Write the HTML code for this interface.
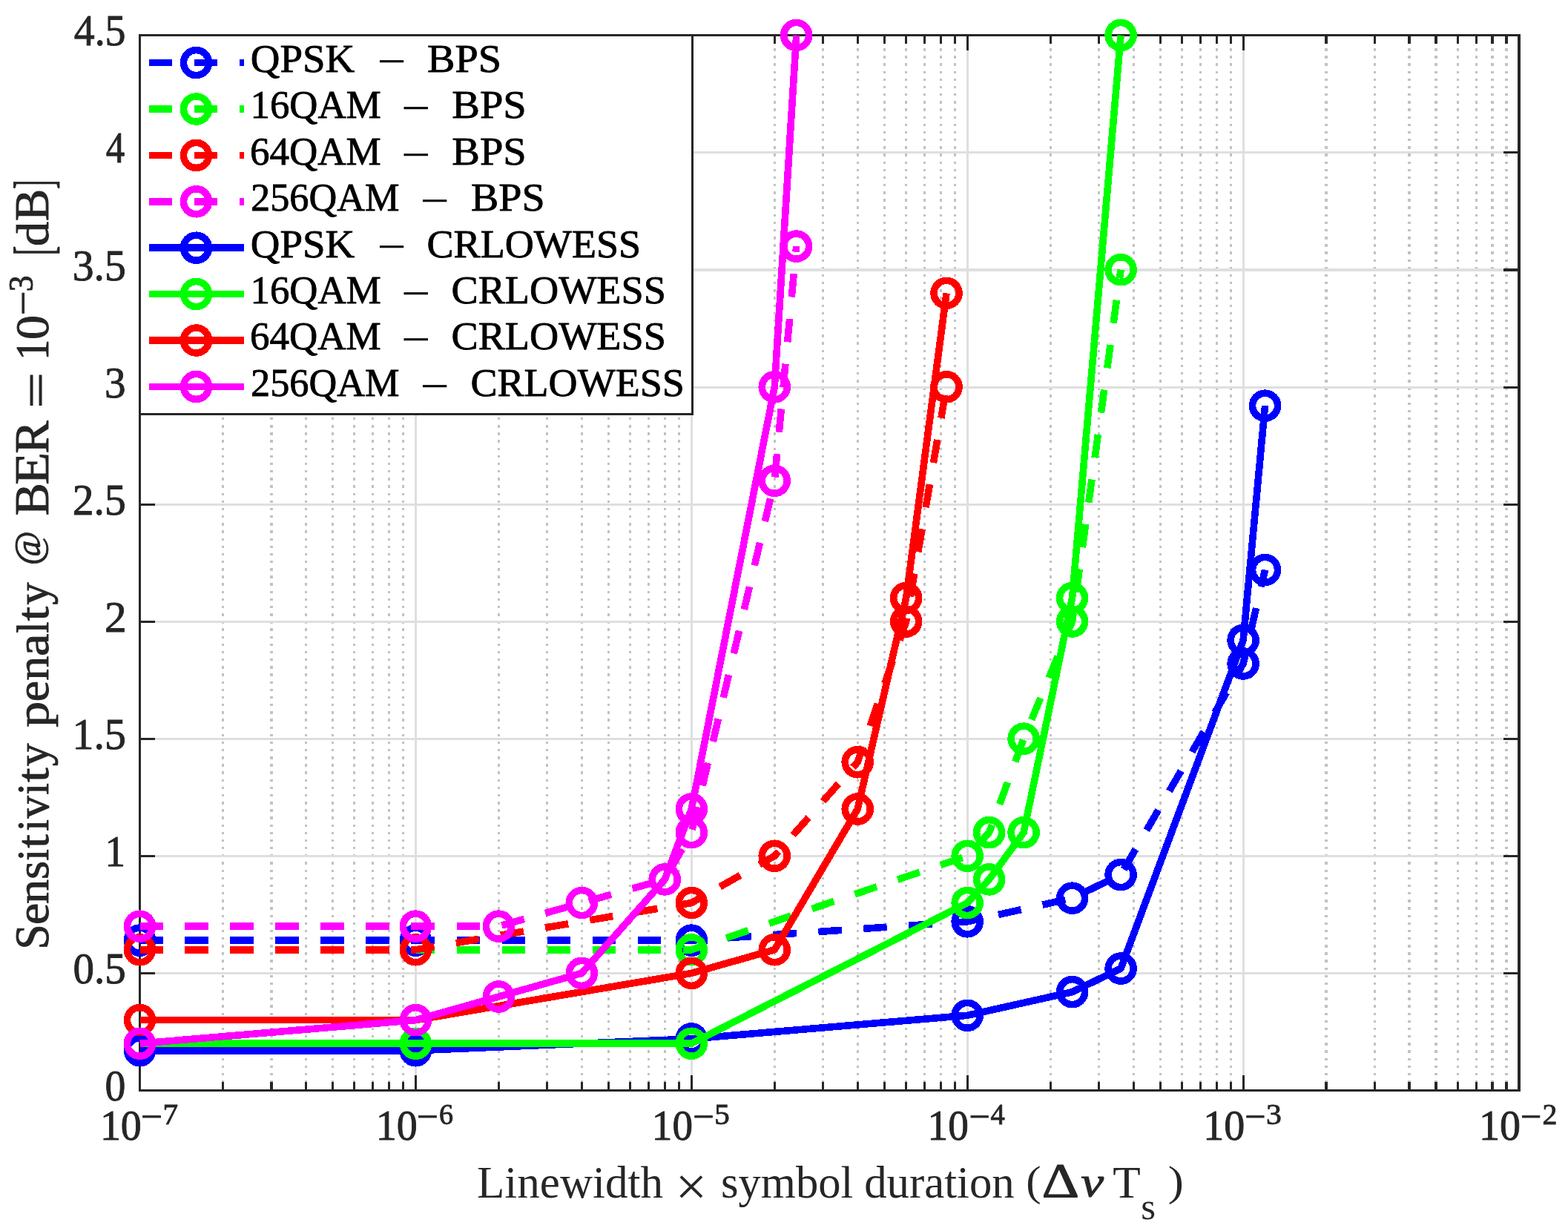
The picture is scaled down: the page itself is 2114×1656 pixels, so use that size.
<!DOCTYPE html>
<html lang="en"><head><meta charset="utf-8"><title>Sensitivity penalty vs linewidth symbol duration</title>
<style>html,body{margin:0;padding:0;background:#fff}svg{display:block}text{font-family:"Liberation Serif","DejaVu Serif",serif;white-space:pre}.t{fill:#262626;stroke:#262626;stroke-width:.9px}.l{fill:#000;stroke:#000;stroke-width:.8px}.x{fill:#262626;stroke:none}.d{font-family:"DejaVu Serif","Liberation Serif",serif}</style></head><body>
<svg width="2114" height="1656" viewBox="0 0 2114 1656">
<rect width="2114" height="1656" fill="#fff"/>
<defs><clipPath id="c"><rect x="188.5" y="47.5" width="1859.5" height="1423.0"/></clipPath></defs>
<g shape-rendering="crispEdges" fill="none">
<path d="M300.45 1470.78V47.78M365.94 1470.78V47.78M412.41 1470.78V47.78M448.45 1470.78V47.78M477.89 1470.78V47.78M502.79 1470.78V47.78M524.36 1470.78V47.78M543.38 1470.78V47.78M672.35 1470.78V47.78M737.84 1470.78V47.78M784.31 1470.78V47.78M820.35 1470.78V47.78M849.79 1470.78V47.78M874.69 1470.78V47.78M896.26 1470.78V47.78M915.28 1470.78V47.78M1044.25 1470.78V47.78M1109.74 1470.78V47.78M1156.21 1470.78V47.78M1192.25 1470.78V47.78M1221.69 1470.78V47.78M1246.59 1470.78V47.78M1268.16 1470.78V47.78M1287.18 1470.78V47.78M1416.15 1470.78V47.78M1481.64 1470.78V47.78M1528.11 1470.78V47.78M1564.15 1470.78V47.78M1593.59 1470.78V47.78M1618.49 1470.78V47.78M1640.06 1470.78V47.78M1659.08 1470.78V47.78M1788.05 1470.78V47.78M1853.54 1470.78V47.78M1900.01 1470.78V47.78M1936.05 1470.78V47.78M1965.49 1470.78V47.78M1990.39 1470.78V47.78M2011.96 1470.78V47.78M2030.98 1470.78V47.78" stroke="#c2c2c2" stroke-width="3.12" stroke-dasharray="3.4 6.76" stroke-dashoffset="9.98"/>
<path d="M560.4 47.78V1470.78M932.3 47.78V1470.78M1304.2 47.78V1470.78M1676.1 47.78V1470.78M188.5 1312.67H2048.0M188.5 1154.56H2048.0M188.5 996.45H2048.0M188.5 838.34H2048.0M188.5 680.22H2048.0M188.5 522.11H2048.0M188.5 364H2048.0M188.5 205.89H2048.0" stroke="#dfdfdf" stroke-width="3.12"/>
<path d="M188.5 1470.78v-20.6M188.5 47.78v20.6M560.4 1470.78v-20.6M560.4 47.78v20.6M932.3 1470.78v-20.6M932.3 47.78v20.6M1304.2 1470.78v-20.6M1304.2 47.78v20.6M1676.1 1470.78v-20.6M1676.1 47.78v20.6M2048 1470.78v-20.6M2048 47.78v20.6M300.45 1470.78v-11.6M300.45 47.78v11.6M365.94 1470.78v-11.6M365.94 47.78v11.6M412.41 1470.78v-11.6M412.41 47.78v11.6M448.45 1470.78v-11.6M448.45 47.78v11.6M477.89 1470.78v-11.6M477.89 47.78v11.6M502.79 1470.78v-11.6M502.79 47.78v11.6M524.36 1470.78v-11.6M524.36 47.78v11.6M543.38 1470.78v-11.6M543.38 47.78v11.6M672.35 1470.78v-11.6M672.35 47.78v11.6M737.84 1470.78v-11.6M737.84 47.78v11.6M784.31 1470.78v-11.6M784.31 47.78v11.6M820.35 1470.78v-11.6M820.35 47.78v11.6M849.79 1470.78v-11.6M849.79 47.78v11.6M874.69 1470.78v-11.6M874.69 47.78v11.6M896.26 1470.78v-11.6M896.26 47.78v11.6M915.28 1470.78v-11.6M915.28 47.78v11.6M1044.25 1470.78v-11.6M1044.25 47.78v11.6M1109.74 1470.78v-11.6M1109.74 47.78v11.6M1156.21 1470.78v-11.6M1156.21 47.78v11.6M1192.25 1470.78v-11.6M1192.25 47.78v11.6M1221.69 1470.78v-11.6M1221.69 47.78v11.6M1246.59 1470.78v-11.6M1246.59 47.78v11.6M1268.16 1470.78v-11.6M1268.16 47.78v11.6M1287.18 1470.78v-11.6M1287.18 47.78v11.6M1416.15 1470.78v-11.6M1416.15 47.78v11.6M1481.64 1470.78v-11.6M1481.64 47.78v11.6M1528.11 1470.78v-11.6M1528.11 47.78v11.6M1564.15 1470.78v-11.6M1564.15 47.78v11.6M1593.59 1470.78v-11.6M1593.59 47.78v11.6M1618.49 1470.78v-11.6M1618.49 47.78v11.6M1640.06 1470.78v-11.6M1640.06 47.78v11.6M1659.08 1470.78v-11.6M1659.08 47.78v11.6M1788.05 1470.78v-11.6M1788.05 47.78v11.6M1853.54 1470.78v-11.6M1853.54 47.78v11.6M1900.01 1470.78v-11.6M1900.01 47.78v11.6M1936.05 1470.78v-11.6M1936.05 47.78v11.6M1965.49 1470.78v-11.6M1965.49 47.78v11.6M1990.39 1470.78v-11.6M1990.39 47.78v11.6M2011.96 1470.78v-11.6M2011.96 47.78v11.6M2030.98 1470.78v-11.6M2030.98 47.78v11.6M188.5 1470.78h20.6M2048.0 1470.78h-20.6M188.5 1312.67h20.6M2048.0 1312.67h-20.6M188.5 1154.56h20.6M2048.0 1154.56h-20.6M188.5 996.45h20.6M2048.0 996.45h-20.6M188.5 838.34h20.6M2048.0 838.34h-20.6M188.5 680.22h20.6M2048.0 680.22h-20.6M188.5 522.11h20.6M2048.0 522.11h-20.6M188.5 364h20.6M2048.0 364h-20.6M188.5 205.89h20.6M2048.0 205.89h-20.6M188.5 47.78h20.6M2048.0 47.78h-20.6" stroke="#262626" stroke-width="3.12"/>
<rect x="188.5" y="47.78" width="1859.5" height="1423" stroke="#262626" stroke-width="3.12"/>
</g>
<g stroke="#0000ff" stroke-width="9.6" fill="none" shape-rendering="crispEdges">
<polyline points="188.5,1268.12 560.4,1268.12 932.3,1268.12 1304.2,1242.82 1445.6,1211.2 1511.09,1179.58 1676.1,894.98 1705.55,768.49" clip-path="url(#c)" stroke-linejoin="round" stroke-dasharray="31.5 29.53" stroke-dashoffset="0.2"/>
<circle cx="188.5" cy="1268.12" r="17.0"/>
<circle cx="560.4" cy="1268.12" r="17.0"/>
<circle cx="932.3" cy="1268.12" r="17.0"/>
<circle cx="1304.2" cy="1242.82" r="17.0"/>
<circle cx="1445.6" cy="1211.2" r="17.0"/>
<circle cx="1511.09" cy="1179.58" r="17.0"/>
<circle cx="1676.1" cy="894.98" r="17.0"/>
<circle cx="1705.55" cy="768.49" r="17.0"/>
</g>
<g stroke="#00ff00" stroke-width="9.6" fill="none" shape-rendering="crispEdges">
<polyline points="188.5,1280.77 560.4,1280.77 932.3,1280.77 1304.2,1154.28 1333.65,1122.66 1380.11,996.17 1445.6,838.06 1511.09,363.72" clip-path="url(#c)" stroke-linejoin="round" stroke-dasharray="31.5 29.53" stroke-dashoffset="0.2"/>
<circle cx="188.5" cy="1280.77" r="17.0"/>
<circle cx="560.4" cy="1280.77" r="17.0"/>
<circle cx="932.3" cy="1280.77" r="17.0"/>
<circle cx="1304.2" cy="1154.28" r="17.0"/>
<circle cx="1333.65" cy="1122.66" r="17.0"/>
<circle cx="1380.11" cy="996.17" r="17.0"/>
<circle cx="1445.6" cy="838.06" r="17.0"/>
<circle cx="1511.09" cy="363.72" r="17.0"/>
</g>
<g stroke="#ff0000" stroke-width="9.6" fill="none" shape-rendering="crispEdges">
<polyline points="188.5,1280.77 560.4,1280.77 932.3,1217.52 1044.25,1154.28 1156.21,1027.79 1221.69,838.06 1276.04,521.83" clip-path="url(#c)" stroke-linejoin="round" stroke-dasharray="31.5 29.53" stroke-dashoffset="0.2"/>
<circle cx="188.5" cy="1280.77" r="17.0"/>
<circle cx="560.4" cy="1280.77" r="17.0"/>
<circle cx="932.3" cy="1217.52" r="17.0"/>
<circle cx="1044.25" cy="1154.28" r="17.0"/>
<circle cx="1156.21" cy="1027.79" r="17.0"/>
<circle cx="1221.69" cy="838.06" r="17.0"/>
<circle cx="1276.04" cy="521.83" r="17.0"/>
</g>
<g stroke="#ff00ff" stroke-width="9.6" fill="none" shape-rendering="crispEdges">
<polyline points="188.5,1249.14 560.4,1249.14 672.35,1249.14 784.31,1217.52 896.26,1185.9 932.3,1122.66 1044.25,648.32 1073.7,332.1" clip-path="url(#c)" stroke-linejoin="round" stroke-dasharray="31.5 29.53" stroke-dashoffset="0.2"/>
<circle cx="188.5" cy="1249.14" r="17.0"/>
<circle cx="560.4" cy="1249.14" r="17.0"/>
<circle cx="672.35" cy="1249.14" r="17.0"/>
<circle cx="784.31" cy="1217.52" r="17.0"/>
<circle cx="896.26" cy="1185.9" r="17.0"/>
<circle cx="932.3" cy="1122.66" r="17.0"/>
<circle cx="1044.25" cy="648.32" r="17.0"/>
<circle cx="1073.7" cy="332.1" r="17.0"/>
</g>
<g stroke="#0000ff" stroke-width="9.6" fill="none" shape-rendering="crispEdges">
<polyline points="188.5,1416.74 560.4,1416.74 932.3,1400.93 1304.2,1369.31 1445.6,1337.69 1511.09,1306.06 1676.1,863.35 1705.55,547.13" clip-path="url(#c)" stroke-linejoin="round"/>
<circle cx="188.5" cy="1416.74" r="17.0"/>
<circle cx="560.4" cy="1416.74" r="17.0"/>
<circle cx="932.3" cy="1400.93" r="17.0"/>
<circle cx="1304.2" cy="1369.31" r="17.0"/>
<circle cx="1445.6" cy="1337.69" r="17.0"/>
<circle cx="1511.09" cy="1306.06" r="17.0"/>
<circle cx="1676.1" cy="863.35" r="17.0"/>
<circle cx="1705.55" cy="547.13" r="17.0"/>
</g>
<g stroke="#00ff00" stroke-width="9.6" fill="none" shape-rendering="crispEdges">
<polyline points="188.5,1407.26 560.4,1407.26 932.3,1407.26 1304.2,1217.52 1333.65,1185.9 1380.11,1122.66 1445.6,806.43 1511.09,47.5" clip-path="url(#c)" stroke-linejoin="round"/>
<circle cx="188.5" cy="1407.26" r="17.0"/>
<circle cx="560.4" cy="1407.26" r="17.0"/>
<circle cx="932.3" cy="1407.26" r="17.0"/>
<circle cx="1304.2" cy="1217.52" r="17.0"/>
<circle cx="1333.65" cy="1185.9" r="17.0"/>
<circle cx="1380.11" cy="1122.66" r="17.0"/>
<circle cx="1445.6" cy="806.43" r="17.0"/>
<circle cx="1511.09" cy="47.5" r="17.0"/>
</g>
<g stroke="#ff0000" stroke-width="9.6" fill="none" shape-rendering="crispEdges">
<polyline points="188.5,1375.63 560.4,1375.63 932.3,1312.39 1044.25,1280.77 1156.21,1091.03 1221.69,806.43 1276.04,395.34" clip-path="url(#c)" stroke-linejoin="round"/>
<circle cx="188.5" cy="1375.63" r="17.0"/>
<circle cx="560.4" cy="1375.63" r="17.0"/>
<circle cx="932.3" cy="1312.39" r="17.0"/>
<circle cx="1044.25" cy="1280.77" r="17.0"/>
<circle cx="1156.21" cy="1091.03" r="17.0"/>
<circle cx="1221.69" cy="806.43" r="17.0"/>
<circle cx="1276.04" cy="395.34" r="17.0"/>
</g>
<g stroke="#ff00ff" stroke-width="9.6" fill="none" shape-rendering="crispEdges">
<polyline points="188.5,1407.26 560.4,1375.63 672.35,1344.01 784.31,1312.39 896.26,1185.9 932.3,1091.03 1044.25,521.83 1073.7,47.5" clip-path="url(#c)" stroke-linejoin="round"/>
<circle cx="188.5" cy="1407.26" r="17.0"/>
<circle cx="560.4" cy="1375.63" r="17.0"/>
<circle cx="672.35" cy="1344.01" r="17.0"/>
<circle cx="784.31" cy="1312.39" r="17.0"/>
<circle cx="896.26" cy="1185.9" r="17.0"/>
<circle cx="932.3" cy="1091.03" r="17.0"/>
<circle cx="1044.25" cy="521.83" r="17.0"/>
<circle cx="1073.7" cy="47.5" r="17.0"/>
</g>
<rect x="188.5" y="47.5" width="745.0" height="511.0" fill="#fff" stroke="#262626" stroke-width="3.12" shape-rendering="crispEdges"/>
<g stroke="#0000ff" stroke-width="9.6" fill="none" shape-rendering="crispEdges"><path d="M200.8 84.6H264.5H329.2" stroke-dasharray="31.5 29.53"/><circle cx="264.5" cy="84.6" r="17.0"/></g>
<g stroke="#00ff00" stroke-width="9.6" fill="none" shape-rendering="crispEdges"><path d="M200.8 147H264.5H329.2" stroke-dasharray="31.5 29.53"/><circle cx="264.5" cy="147" r="17.0"/></g>
<g stroke="#ff0000" stroke-width="9.6" fill="none" shape-rendering="crispEdges"><path d="M200.8 209.4H264.5H329.2" stroke-dasharray="31.5 29.53"/><circle cx="264.5" cy="209.4" r="17.0"/></g>
<g stroke="#ff00ff" stroke-width="9.6" fill="none" shape-rendering="crispEdges"><path d="M200.8 271.8H264.5H329.2" stroke-dasharray="31.5 29.53"/><circle cx="264.5" cy="271.8" r="17.0"/></g>
<g stroke="#0000ff" stroke-width="9.6" fill="none" shape-rendering="crispEdges"><path d="M200.8 334.2H264.5H329.2"/><circle cx="264.5" cy="334.2" r="17.0"/></g>
<g stroke="#00ff00" stroke-width="9.6" fill="none" shape-rendering="crispEdges"><path d="M200.8 396.6H264.5H329.2"/><circle cx="264.5" cy="396.6" r="17.0"/></g>
<g stroke="#ff0000" stroke-width="9.6" fill="none" shape-rendering="crispEdges"><path d="M200.8 459H264.5H329.2"/><circle cx="264.5" cy="459" r="17.0"/></g>
<g stroke="#ff00ff" stroke-width="9.6" fill="none" shape-rendering="crispEdges"><path d="M200.8 521.4H264.5H329.2"/><circle cx="264.5" cy="521.4" r="17.0"/></g>
<text class="l"><tspan font-size="53.7" x="337.78" y="97" textLength="140.48" lengthAdjust="spacingAndGlyphs">QPSK</tspan> <tspan font-size="46.0" x="509.41" y="98.47" textLength="37.7" lengthAdjust="spacingAndGlyphs">−</tspan> <tspan font-size="53.7" x="576.1" y="97" textLength="100.05" lengthAdjust="spacingAndGlyphs">BPS</tspan></text>
<text class="l"><tspan font-size="53.7" x="337.49" y="159.4" textLength="176.25" lengthAdjust="spacingAndGlyphs">16QAM</tspan> <tspan font-size="46.0" x="542.12" y="161.08" textLength="37.99" lengthAdjust="spacingAndGlyphs">−</tspan> <tspan font-size="53.7" x="609.26" y="159.4" textLength="100.55" lengthAdjust="spacingAndGlyphs">BPS</tspan></text>
<text class="l"><tspan font-size="53.7" x="336.93" y="221.8" textLength="176.79" lengthAdjust="spacingAndGlyphs">64QAM</tspan> <tspan font-size="46.0" x="542.12" y="223.66" textLength="37.99" lengthAdjust="spacingAndGlyphs">−</tspan> <tspan font-size="53.7" x="609.26" y="221.8" textLength="100.55" lengthAdjust="spacingAndGlyphs">BPS</tspan></text>
<text class="l"><tspan font-size="53.7" x="338.01" y="284.2" textLength="200.65" lengthAdjust="spacingAndGlyphs">256QAM</tspan> <tspan font-size="46.0" x="567.48" y="286.22" textLength="37.9" lengthAdjust="spacingAndGlyphs">−</tspan> <tspan font-size="53.7" x="634.92" y="284.2" textLength="99.71" lengthAdjust="spacingAndGlyphs">BPS</tspan></text>
<text class="l"><tspan font-size="53.7" x="337.78" y="346.6" textLength="140.48" lengthAdjust="spacingAndGlyphs">QPSK</tspan> <tspan font-size="46.0" x="509.41" y="347.89" textLength="37.7" lengthAdjust="spacingAndGlyphs">−</tspan> <tspan font-size="53.7" x="575.49" y="346.6" textLength="288.71" lengthAdjust="spacingAndGlyphs">CRLOWESS</tspan></text>
<text class="l"><tspan font-size="53.7" x="337.49" y="409" textLength="176.25" lengthAdjust="spacingAndGlyphs">16QAM</tspan> <tspan font-size="46.0" x="542.12" y="410.5" textLength="37.99" lengthAdjust="spacingAndGlyphs">−</tspan> <tspan font-size="53.7" x="608.47" y="409" textLength="289.33" lengthAdjust="spacingAndGlyphs">CRLOWESS</tspan></text>
<text class="l"><tspan font-size="53.7" x="336.93" y="471.4" textLength="176.79" lengthAdjust="spacingAndGlyphs">64QAM</tspan> <tspan font-size="46.0" x="542.12" y="473.08" textLength="37.99" lengthAdjust="spacingAndGlyphs">−</tspan> <tspan font-size="53.7" x="608.47" y="471.4" textLength="289.33" lengthAdjust="spacingAndGlyphs">CRLOWESS</tspan></text>
<text class="l"><tspan font-size="53.7" x="338.01" y="533.8" textLength="200.65" lengthAdjust="spacingAndGlyphs">256QAM</tspan> <tspan font-size="46.0" x="567.48" y="535.64" textLength="37.9" lengthAdjust="spacingAndGlyphs">−</tspan> <tspan font-size="53.7" x="634.43" y="533.8" textLength="288.43" lengthAdjust="spacingAndGlyphs">CRLOWESS</tspan></text>
<text class="t"><tspan font-size="58.4" x="141.52" y="1484.3" textLength="27.89" lengthAdjust="spacingAndGlyphs">0</tspan></text>
<text class="t"><tspan font-size="58.4" x="98.61" y="1326.19" textLength="71.19" lengthAdjust="spacingAndGlyphs">0.5</tspan></text>
<text class="t"><tspan font-size="58.4" x="141.58" y="1168.08" textLength="27.46" lengthAdjust="spacingAndGlyphs">1</tspan></text>
<text class="t"><tspan font-size="58.4" x="97.54" y="1009.97" textLength="72.28" lengthAdjust="spacingAndGlyphs">1.5</tspan></text>
<text class="t"><tspan font-size="58.4" x="141.03" y="851.86" textLength="29.65" lengthAdjust="spacingAndGlyphs">2</tspan></text>
<text class="t"><tspan font-size="58.4" x="97.84" y="693.74" textLength="71.95" lengthAdjust="spacingAndGlyphs">2.5</tspan></text>
<text class="t"><tspan font-size="58.4" x="140.92" y="535.63" textLength="28.62" lengthAdjust="spacingAndGlyphs">3</tspan></text>
<text class="t"><tspan font-size="58.4" x="97.66" y="377.52" textLength="72.16" lengthAdjust="spacingAndGlyphs">3.5</tspan></text>
<text class="t"><tspan font-size="58.4" x="142.64" y="219.41" textLength="25.45" lengthAdjust="spacingAndGlyphs">4</tspan></text>
<text class="t"><tspan font-size="58.4" x="99.71" y="61.3" textLength="69.83" lengthAdjust="spacingAndGlyphs">4.5</tspan></text>
<text class="t"><tspan font-size="57.8" x="134.88" y="1536.6" textLength="55.99" lengthAdjust="spacingAndGlyphs">10</tspan><tspan font-size="46.0" x="190.37" y="1521.02" textLength="29.01" lengthAdjust="spacingAndGlyphs">−</tspan><tspan font-size="39.4" x="219.59" y="1516.3" textLength="20.6" lengthAdjust="spacingAndGlyphs">7</tspan></text>
<text class="t"><tspan font-size="57.8" x="506.74" y="1536.6" textLength="55.97" lengthAdjust="spacingAndGlyphs">10</tspan><tspan font-size="46.0" x="562.22" y="1521.02" textLength="28.85" lengthAdjust="spacingAndGlyphs">−</tspan><tspan font-size="39.4" x="591.93" y="1516.3" textLength="19.12" lengthAdjust="spacingAndGlyphs">6</tspan></text>
<text class="t"><tspan font-size="57.8" x="878.81" y="1536.6" textLength="55.18" lengthAdjust="spacingAndGlyphs">10</tspan><tspan font-size="46.0" x="934.51" y="1521.02" textLength="28.64" lengthAdjust="spacingAndGlyphs">−</tspan><tspan font-size="39.4" x="963.27" y="1516.3" textLength="20.57" lengthAdjust="spacingAndGlyphs">5</tspan></text>
<text class="t"><tspan font-size="57.8" x="1250.53" y="1536.6" textLength="55.33" lengthAdjust="spacingAndGlyphs">10</tspan><tspan font-size="46.0" x="1306.69" y="1521.02" textLength="28.26" lengthAdjust="spacingAndGlyphs">−</tspan><tspan font-size="39.4" x="1335.4" y="1516.3" textLength="19.26" lengthAdjust="spacingAndGlyphs">4</tspan></text>
<text class="t"><tspan font-size="57.8" x="1622.33" y="1536.6" textLength="56" lengthAdjust="spacingAndGlyphs">10</tspan><tspan font-size="46.0" x="1678.52" y="1521.02" textLength="28.26" lengthAdjust="spacingAndGlyphs">−</tspan><tspan font-size="39.4" x="1706.93" y="1516.3" textLength="20.86" lengthAdjust="spacingAndGlyphs">3</tspan></text>
<text class="t"><tspan font-size="57.8" x="1993.96" y="1536.6" textLength="56.03" lengthAdjust="spacingAndGlyphs">10</tspan><tspan font-size="46.0" x="2050.35" y="1521.02" textLength="28.25" lengthAdjust="spacingAndGlyphs">−</tspan><tspan font-size="39.4" x="2079.45" y="1516.3" textLength="19.9" lengthAdjust="spacingAndGlyphs">2</tspan></text>
<text class="x"><tspan font-size="60.4" x="642.97" y="1614.8" textLength="251.16" lengthAdjust="spacingAndGlyphs">Linewidth</tspan> <tspan font-size="74.75" x="910.55" y="1624.59" textLength="42.72" lengthAdjust="spacingAndGlyphs">×</tspan> <tspan font-size="60.4" x="972.03" y="1614.8" textLength="178.29" lengthAdjust="spacingAndGlyphs">symbol</tspan> <tspan font-size="60.4" x="1165.25" y="1614.8" textLength="202.39" lengthAdjust="spacingAndGlyphs">duration</tspan> <tspan font-size="56.46" x="1383.19" y="1612.4" textLength="20.33" lengthAdjust="spacingAndGlyphs">(</tspan><tspan font-size="65.0" class="t" x="1404.62" y="1613.86" textLength="50.68" lengthAdjust="spacingAndGlyphs">Δ</tspan><tspan font-size="57.66" class="t" font-style="italic" x="1457.2" y="1613.36" textLength="30.88" lengthAdjust="spacingAndGlyphs">ν</tspan> <tspan font-size="60.4" x="1500.27" y="1614.8" textLength="37.46" lengthAdjust="spacingAndGlyphs">T</tspan><tspan font-size="51.0" x="1538.18" y="1643.8" textLength="19.81" lengthAdjust="spacingAndGlyphs">s</tspan> <tspan font-size="56.46" x="1574.72" y="1612.44" textLength="21.16" lengthAdjust="spacingAndGlyphs">)</tspan></text>
<text class="t" transform="translate(64.9 1277) rotate(-90)"><tspan font-size="65.4" x="-3.56" y="0" textLength="34.28" lengthAdjust="spacingAndGlyphs">S</tspan><tspan font-size="60.6" x="29.98" y="0" textLength="29.24" lengthAdjust="spacingAndGlyphs">e</tspan><tspan font-size="60.6" x="58.11" y="0" textLength="33.14" lengthAdjust="spacingAndGlyphs">n</tspan><tspan font-size="60.6" x="90.93" y="0" textLength="25.06" lengthAdjust="spacingAndGlyphs">s</tspan><tspan font-size="60.6" x="116.24" y="0" textLength="15.71" lengthAdjust="spacingAndGlyphs">i</tspan><tspan font-size="60.6" x="133.16" y="0" textLength="18.41" lengthAdjust="spacingAndGlyphs">t</tspan><tspan font-size="60.6" x="156.24" y="0" textLength="15.71" lengthAdjust="spacingAndGlyphs">i</tspan><tspan font-size="60.6" x="173.45" y="0" textLength="30.37" lengthAdjust="spacingAndGlyphs">v</tspan><tspan font-size="60.6" x="205.24" y="0" textLength="15.71" lengthAdjust="spacingAndGlyphs">i</tspan><tspan font-size="60.6" x="222.12" y="0" textLength="19.58" lengthAdjust="spacingAndGlyphs">t</tspan><tspan font-size="60.6" x="243.82" y="0" textLength="30.83" lengthAdjust="spacingAndGlyphs">y</tspan> <tspan font-size="60.6" x="296.38" y="0" textLength="34.81" lengthAdjust="spacingAndGlyphs">p</tspan><tspan font-size="60.6" x="330.87" y="0" textLength="28.29" lengthAdjust="spacingAndGlyphs">e</tspan><tspan font-size="60.6" x="359.33" y="0" textLength="33.03" lengthAdjust="spacingAndGlyphs">n</tspan><tspan font-size="60.6" x="391.96" y="0" textLength="30.56" lengthAdjust="spacingAndGlyphs">a</tspan><tspan font-size="60.6" x="423.34" y="0" textLength="15.23" lengthAdjust="spacingAndGlyphs">l</tspan><tspan font-size="60.6" x="439.64" y="0" textLength="19.57" lengthAdjust="spacingAndGlyphs">t</tspan><tspan font-size="60.6" x="461.6" y="0" textLength="29.91" lengthAdjust="spacingAndGlyphs">y</tspan> <tspan font-size="50.31" x="514.78" y="-11.17" textLength="46.27" lengthAdjust="spacingAndGlyphs">@</tspan> <tspan font-size="65.4" x="581.4" y="0" textLength="44.22" lengthAdjust="spacingAndGlyphs">B</tspan><tspan font-size="65.4" x="623.23" y="0" textLength="43.77" lengthAdjust="spacingAndGlyphs">E</tspan><tspan font-size="65.4" x="665.37" y="0" textLength="44.35" lengthAdjust="spacingAndGlyphs">R</tspan> <tspan font-size="61.2" x="726.28" y="4.05" textLength="48.86" lengthAdjust="spacingAndGlyphs">=</tspan> <tspan font-size="64.0" x="791.26" y="0" textLength="28.1" lengthAdjust="spacingAndGlyphs">1</tspan><tspan font-size="64.0" x="819.03" y="0" textLength="33.04" lengthAdjust="spacingAndGlyphs">0</tspan><tspan font-size="54.0" x="851.76" y="-15.99" textLength="32.71" lengthAdjust="spacingAndGlyphs">−</tspan><tspan font-size="47.0" x="883.64" y="-21.1" textLength="21.71" lengthAdjust="spacingAndGlyphs">3</tspan> <tspan font-size="73.91" x="932.7" y="4.74" textLength="12.65" lengthAdjust="spacingAndGlyphs">[</tspan><tspan font-size="60.6" x="944.94" y="0" textLength="33.12" lengthAdjust="spacingAndGlyphs">d</tspan><tspan font-size="65.4" x="978.71" y="0" textLength="43.45" lengthAdjust="spacingAndGlyphs">B</tspan><tspan font-size="73.91" x="1022.06" y="4.74" textLength="12.64" lengthAdjust="spacingAndGlyphs">]</tspan></text>
</svg></body></html>
